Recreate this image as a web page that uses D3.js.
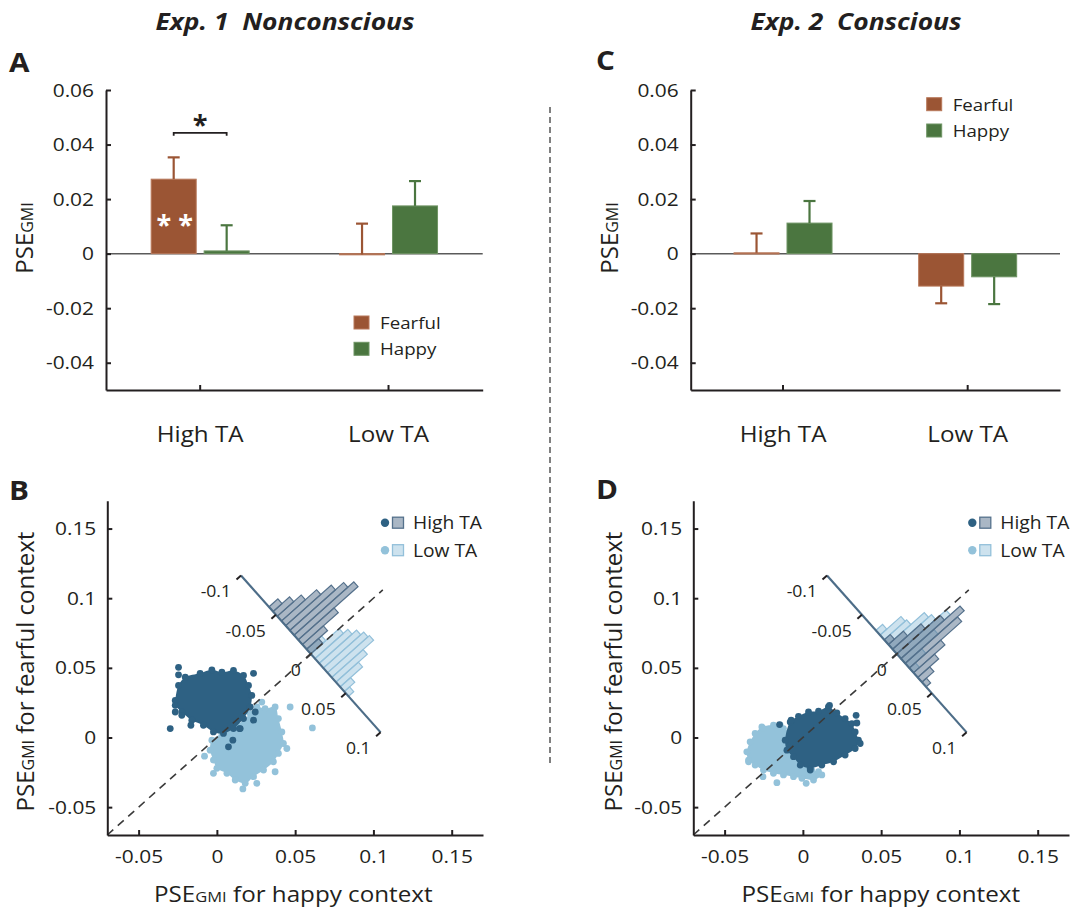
<!DOCTYPE html>
<html><head><meta charset="utf-8">
<script src="https://cdn.jsdelivr.net/npm/d3@7"></script>
<style>
body{margin:0;background:#fff}
svg{display:block}
text{font-family:"Open Sans",sans-serif;fill:#231f20}
</style>
</head><body>
<svg id="chart" width="1071" height="912"></svg>
<script>
// ---------------- DATA ----------------
const groups = ["High TA", "Low TA"];
const contexts = ["Fearful", "Happy"];
const barTicks = [0.06, 0.04, 0.02, 0, -0.02, -0.04];
const scatterTicks = [-0.05, 0, 0.05, 0.1, 0.15];
const histTicks = [-0.1, -0.05, 0, 0.05, 0.1];

// Exp. 1 (Nonconscious) means and error-bar ends
const exp1Fearful = [0.0273, -0.0003];
const exp1Happy = [0.0010, 0.0175];
const exp1FearfulErr = [0.0353, 0.0110];
const exp1HappyErr = [0.0104, 0.0266];
// Exp. 2 (Conscious)
const exp2Fearful = [0.0003, -0.0119];
const exp2Happy = [0.0112, -0.0085];
const exp2FearfulErr = [0.0074, -0.0182];
const exp2HappyErr = [0.0193, -0.0185];

// Bootstrap clouds (happy context x, fearful context y): outline + stray points
const bHighOutline = [[-0.0266,0.0266],[-0.0245,0.0374],[-0.0202,0.0433],[-0.0107,0.0461],[-0.0032,0.0486],[0.0032,0.0469],[0.0106,0.0481],[0.0170,0.0445],[0.0202,0.0374],[0.0223,0.0302],[0.0213,0.0219],[0.0170,0.0136],[0.0106,0.0064],[0.0042,0.0029],[-0.0022,0.0040],[-0.0086,0.0088],[-0.0160,0.0124],[-0.0224,0.0183],[-0.0266,0.0231]];
const bHighPoints = [[-0.0245,0.0450],[-0.0298,0.0064],[-0.0266,0.0183],[-0.0224,0.0159],[-0.0166,0.0088],[0.0234,0.0461],[0.0245,0.0183],[0.0234,0.0124],[0.0149,0.0064],[0.0102,-0.0019],[0.0074,-0.0067],[-0.0245,0.0504],[0.0144,0.0064]];
const bLowOutline = [[-0.0032,-0.0019],[0.0032,0.0029],[0.0128,0.0088],[0.0213,0.0171],[0.0255,0.0219],[0.0308,0.0207],[0.0372,0.0219],[0.0393,0.0136],[0.0415,0.0040],[0.0425,-0.0043],[0.0393,-0.0114],[0.0361,-0.0174],[0.0298,-0.0234],[0.0234,-0.0281],[0.0181,-0.0329],[0.0117,-0.0305],[0.0064,-0.0257],[0.0000,-0.0221],[-0.0022,-0.0162],[-0.0043,-0.0091]];
const bLowPoints = [[-0.0079,-0.0134],[-0.0022,-0.0257],[0.0468,0.0219],[0.0610,0.0069],[0.0372,-0.0246],[0.0255,-0.0329],[0.0166,-0.0369],[0.0447,-0.0079],[0.0287,0.0254]];
const dHighOutline = [[-0.0113,-0.0019],[-0.0081,0.0111],[-0.0028,0.0152],[0.0036,0.0183],[0.0100,0.0190],[0.0163,0.0219],[0.0217,0.0176],[0.0270,0.0136],[0.0313,0.0100],[0.0334,0.0040],[0.0355,-0.0019],[0.0334,-0.0079],[0.0270,-0.0126],[0.0196,-0.0174],[0.0121,-0.0198],[0.0047,-0.0221],[-0.0017,-0.0198],[-0.0060,-0.0138],[-0.0102,-0.0091]];
const dHighPoints = [[-0.0149,0.0093],[0.0170,0.0230],[0.0340,0.0159],[0.0345,0.0104],[0.0366,-0.0043],[0.0047,-0.0234],[-0.0075,0.0124]];
const dLowOutline = [[-0.0262,0.0076],[-0.0188,0.0088],[-0.0124,0.0064],[-0.0040,0.0000],[0.0000,-0.0100],[0.0030,-0.0180],[0.0057,-0.0234],[0.0100,-0.0246],[0.0121,-0.0269],[0.0068,-0.0305],[-0.0006,-0.0293],[-0.0060,-0.0281],[-0.0124,-0.0269],[-0.0188,-0.0257],[-0.0252,-0.0234],[-0.0305,-0.0198],[-0.0347,-0.0162],[-0.0358,-0.0103],[-0.0337,-0.0031],[-0.0305,0.0029]];
const dLowPoints = [[-0.0255,-0.0281],[-0.0166,-0.0324],[0.0021,-0.0329],[-0.0347,-0.0174],[-0.0252,0.0064],[-0.0145,0.0088]];

// Histograms of (happy - fearful), bin width 0.006
const histBinWidth = 0.006;
const bHighHistStart = -0.060;
const bHighHist = [24, 44, 64, 94, 122, 144, 160, 96, 56, 32];
const bLowHistStart = -0.006;
const bLowHist = [40, 76, 88, 100, 108, 112, 84, 60, 28, 14];
const dHighHistStart = -0.018;
const dHighHist = [16, 40, 76, 116, 158, 140, 84, 56, 32, 12];
const dLowHistStart = -0.030;
const dLowHist = [18, 56, 60, 96, 104, 132, 88, 44, 16];

// ---------------- STYLE ----------------
const cFear = "#9b5534", cFearEdge = "#b8785a";
const cHappy = "#4b7640", cHappyEdge = "#6f9464";
const cDark = "#2e6183", cLight = "#93c2da";
const histDarkFill = "rgb(86,112,140)", histDarkStroke = "#55718c";
const histLightFill = "rgb(155,197,222)", histLightStroke = "#93c0da";
const ink = "#231f20";
const SX = 1.1;

const svg = d3.select("#chart");

function T(parent, x, y, str, o = {}) {
  const t = parent.append("text")
    .attr("transform", `translate(${x},${y}) scale(${o.sx ?? SX},1)`)
    .attr("text-anchor", o.anchor || "start")
    .style("font-size", (o.size || 19) + "px")
    .style("white-space", "pre");
  if (o.weight) t.style("font-weight", o.weight);
  if (o.italic) t.style("font-style", "italic");
  if (o.fill) t.style("fill", o.fill);
  if (o.ls) t.style("letter-spacing", o.ls + "px");
  t.text(str);
  return t;
}

function styleAxis(g, size) {
  g.attr("font-family", null).attr("font-size", null);
  g.select(".domain").attr("stroke", ink).attr("stroke-width", 2);
  g.selectAll(".tick line").attr("stroke", ink).attr("stroke-width", 2);
  g.selectAll(".tick text").style("font-size", size + "px").attr("fill", ink)
    .each(function () {
      const s = d3.select(this);
      const x = +(s.attr("x") || 0);
      s.attr("x", x / SX).attr("transform", `scale(${SX},1)`);
    });
}

function yTitle(x, y, rest) {
  const t = svg.append("text").attr("transform", `translate(${x},${y}) rotate(-90)`)
    .attr("text-anchor", "middle").style("font-size", "24px");
  t.append("tspan").text("PSE");
  t.append("tspan").style("font-size", "16px").text("GMI");
  if (rest) t.append("tspan").text(rest);
}

function xTitle(x, y) {
  const t = svg.append("text").attr("transform", `translate(${x},${y}) scale(${SX},1)`)
    .attr("text-anchor", "middle").style("font-size", "22px").style("white-space", "pre");
  t.append("tspan").text("PSE");
  t.append("tspan").style("font-size", "15px").text("GMI");
  t.append("tspan").text(" for happy context");
}

// ---------------- BAR PANELS ----------------
function barPanel(x0, x1, fear, happy, fearErr, happyErr) {
  const g = svg.append("g");
  const xb = d3.scaleBand().domain(groups).range([x0, x1]);
  const xi = d3.scaleBand().domain(contexts).range([-49, 49]).paddingInner(0.15);
  const y = d3.scaleLinear().domain([-0.05, 0.06]).range([390, 90]);

  g.append("line").attr("x1", x0).attr("x2", x1).attr("y1", y(0)).attr("y2", y(0))
    .attr("stroke", "#5a5a5a").attr("stroke-width", 1.5);

  const rows = [];
  groups.forEach((gr, i) => {
    rows.push({ gr, ctx: "Fearful", v: fear[i], e: fearErr[i], c: cFear, ce: cFearEdge });
    rows.push({ gr, ctx: "Happy", v: happy[i], e: happyErr[i], c: cHappy, ce: cHappyEdge });
  });
  const cx = d => xb(d.gr) + xb.bandwidth() / 2 + xi(d.ctx);
  g.selectAll(".bar").data(rows).join("rect")
    .attr("x", cx).attr("width", xi.bandwidth())
    .attr("y", d => y(Math.max(d.v, 0)))
    .attr("height", d => Math.max(1.2, Math.abs(y(d.v) - y(0))))
    .attr("fill", d => d.c).attr("stroke", d => d.ce).attr("stroke-width", 1);
  const mid = d => cx(d) + xi.bandwidth() / 2;
  g.selectAll(".eb").data(rows).join("line")
    .attr("x1", mid).attr("x2", mid).attr("y1", d => y(d.v)).attr("y2", d => y(d.e))
    .attr("stroke", d => d.c).attr("stroke-width", 2.2);
  g.selectAll(".cap").data(rows).join("line")
    .attr("x1", d => mid(d) - 6).attr("x2", d => mid(d) + 6).attr("y1", d => y(d.e)).attr("y2", d => y(d.e))
    .attr("stroke", d => d.c).attr("stroke-width", 2.2);

  const ya = g.append("g").attr("transform", `translate(${x0},0)`)
    .call(d3.axisLeft(y).tickValues(barTicks).tickFormat(d => String(d)).tickSize(-5).tickSizeOuter(0).tickPadding(12));
  styleAxis(ya, 19);
  const xa = g.append("g").attr("transform", `translate(0,390)`)
    .call(d3.axisBottom(xb).tickSize(-5).tickSizeOuter(0).tickPadding(36));
  styleAxis(xa, 22);
  return { g, xb, xi, y };
}

const A = barPanel(106, 482.7, exp1Fearful, exp1Happy, exp1FearfulErr, exp1HappyErr);
const C = barPanel(690.7, 1060, exp2Fearful, exp2Happy, exp2FearfulErr, exp2HappyErr);

// significance marks in A
{
  const g = A.g, xb = A.xb, xi = A.xi, y = A.y;
  const c0 = xb("High TA") + xb.bandwidth() / 2;
  const xf = c0 + xi("Fearful") + xi.bandwidth() / 2;
  const xh = c0 + xi("Happy") + xi.bandwidth() / 2;
  const yb = y(0.0443), yt = y(0.0432);
  g.append("path").attr("d", `M${xf},${yt}V${yb}H${xh}V${yt}`)
    .attr("fill", "none").attr("stroke", ink).attr("stroke-width", 1.8);
  T(g, (xf + xh) / 2, yb + 1, "*", { size: 27, anchor: "middle", sx: 1, weight: 700 });
  T(g, xf + 1, y(0.0127) + 15, "* *", { size: 27, anchor: "middle", sx: 1, fill: "#fff", weight: 700 });
}

function barLegend(x, y) {
  [{ l: "Fearful", c: cFear, ce: cFearEdge }, { l: "Happy", c: cHappy, ce: cHappyEdge }].forEach((d, i) => {
    const yy = y + i * 26.3;
    svg.append("rect").attr("x", x).attr("y", yy).attr("width", 15).attr("height", 13)
      .attr("fill", d.c).attr("stroke", d.ce).attr("stroke-width", 1);
    T(svg, x + 26, yy + 12.8, d.l, { size: 17 });
  });
}
barLegend(354, 316);
barLegend(926.7, 97.7);

yTitle(33, 238);
yTitle(618, 238);

// ---------------- SCATTER PANELS ----------------
function scatterPanel(x0, x1, lowOutline, lowPts, highOutline, highPts, lowStart, lowHist, highStart, highHist) {
  const g = svg.append("g");
  const xs = d3.scaleLinear().domain([-0.07, 0.17]).range([x0, x1]);
  const ys = d3.scaleLinear().domain([-0.07, 0.17]).range([835, 500.7]);
  const line = d3.line().x(d => xs(d[0])).y(d => ys(d[1])).curve(d3.curveCatmullRomClosed.alpha(0.5));

  [[lowOutline, lowPts, cLight], [highOutline, highPts, cDark]].forEach(([ol, pts, col]) => {
    g.append("path").datum(ol).attr("d", line).attr("fill", col);
    g.selectAll(null).data(ol.concat(pts)).join("circle")
      .attr("cx", d => xs(d[0])).attr("cy", d => ys(d[1])).attr("r", 3.4).attr("fill", col);
  });

  // histogram along an axis perpendicular to the diagonal
  const histCenter = 0.06;
  const P0 = [xs(histCenter), ys(histCenter)];
  const dx = xs(1) - xs(0), dy = ys(1) - ys(0);
  const n = Math.hypot(dx, dy);
  const u = [-dy / n, dx / n];
  const ang = Math.atan2(u[1], u[0]) * 180 / Math.PI;
  const s = d3.scaleLinear().domain([-0.1, 0.1]).range([-105, 105]);
  const h = d3.scaleLinear().domain([0, 160]).range([0, 80]);
  const hg = g.append("g").attr("transform", `translate(${P0[0]},${P0[1]}) rotate(${ang})`);
  [[lowStart, lowHist, histLightFill, histLightStroke], [highStart, highHist, histDarkFill, histDarkStroke]].forEach(([st, cnt, f, sk]) => {
    hg.selectAll(null).data(cnt.map((c, i) => ({ a: st + i * histBinWidth, c }))).join("rect")
      .attr("x", d => s(d.a)).attr("width", d => s(d.a + histBinWidth) - s(d.a))
      .attr("y", d => -h(d.c)).attr("height", d => h(d.c))
      .attr("fill", f).attr("fill-opacity", 0.5).attr("stroke", sk).attr("stroke-width", 1.2);
  });
  hg.append("line").attr("x1", s(-0.1)).attr("x2", s(0.1)).attr("y1", 0).attr("y2", 0)
    .attr("stroke", "#4d6d88").attr("stroke-width", 2.2);
  hg.selectAll(null).data(histTicks).join("line")
    .attr("x1", d => s(d)).attr("x2", d => s(d)).attr("y1", 0).attr("y2", 6)
    .attr("stroke", ink).attr("stroke-width", 2);
  histTicks.forEach(t => {
    const px = P0[0] + u[0] * s(t), py = P0[1] + u[1] * s(t);
    T(g, px - 10, py + 22, String(t), { size: 16, anchor: "end" });
  });

  // diagonal
  g.append("line").attr("x1", xs(-0.07)).attr("y1", ys(-0.07)).attr("x2", xs(0.106)).attr("y2", ys(0.106))
    .attr("stroke", "#3a3a3a").attr("stroke-width", 1.6).attr("stroke-dasharray", "8,6");

  const ya = g.append("g").attr("transform", `translate(${x0},0)`)
    .call(d3.axisLeft(ys).tickValues(scatterTicks).tickFormat(d => String(d)).tickSize(-5).tickSizeOuter(0).tickPadding(11));
  styleAxis(ya, 19);
  const xa = g.append("g").attr("transform", `translate(0,835)`)
    .call(d3.axisBottom(xs).tickValues(scatterTicks).tickFormat(d => String(d)).tickSize(-5).tickSizeOuter(0).tickPadding(15));
  styleAxis(xa, 19);
  return { g, xs, ys };
}

scatterPanel(107.3, 483, bLowOutline, bLowPoints, bHighOutline, bHighPoints, bLowHistStart, bLowHist, bHighHistStart, bHighHist);
scatterPanel(693.3, 1069, dLowOutline, dLowPoints, dHighOutline, dHighPoints, dLowHistStart, dLowHist, dHighHistStart, dHighHist);

function scatterLegend(x, y) {
  [{ l: "High TA", c: cDark, f: histDarkFill, s: histDarkStroke }, { l: "Low TA", c: cLight, f: histLightFill, s: histLightStroke }].forEach((d, i) => {
    const yy = y + i * 27.5;
    svg.append("circle").attr("cx", x).attr("cy", yy).attr("r", 4.2).attr("fill", d.c);
    svg.append("rect").attr("x", x + 7.5).attr("y", yy - 5.5).attr("width", 11).attr("height", 11)
      .attr("fill", d.f).attr("fill-opacity", 0.5).attr("stroke", d.s).attr("stroke-width", 1.3);
    T(svg, x + 28, yy + 6.5, d.l, { size: 17.5 });
  });
}
scatterLegend(385, 522.7);
scatterLegend(972.3, 522.7);

yTitle(33.5, 671.5, " for fearful context");
yTitle(621.5, 671.5, " for fearful context");
xTitle(293.3, 902);
xTitle(880.8, 902);

// ---------------- TITLES, LETTERS, DIVIDER ----------------
T(svg, 285, 30, "Exp. 1  Nonconscious", { size: 24, anchor: "middle", weight: 700, italic: true });
T(svg, 856, 30, "Exp. 2  Conscious", { size: 24, anchor: "middle", weight: 700, italic: true });
T(svg, 9, 72, "A", { size: 27, weight: 700 });
T(svg, 596, 70, "C", { size: 27, weight: 700 });
T(svg, 9, 500, "B", { size: 27, weight: 700 });
T(svg, 596, 499, "D", { size: 27, weight: 700 });

svg.append("line").attr("x1", 550).attr("x2", 550).attr("y1", 107).attr("y2", 765)
  .attr("stroke", "#555").attr("stroke-width", 1.5).attr("stroke-dasharray", "6,4");
</script>
</body></html>
